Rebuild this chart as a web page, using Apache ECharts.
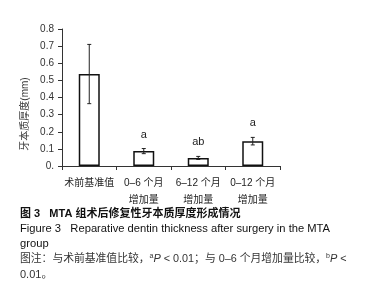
<!DOCTYPE html>
<html>
<head>
<meta charset="utf-8">
<script src="https://cdn.jsdelivr.net/npm/echarts@6/dist/echarts.min.js"></script>
<style>
  html, body { margin: 0; padding: 0; background: #fff; }
  #chart { width: 366px; height: 300px; }
</style>
</head>
<body>
<div id="chart"></div>
<script>
// 数据
var categories = ['术前基准值', '0–6 个月\n增加量', '6–12 个月\n增加量', '0–12 个月\n增加量'];
var meanValues = [0.537, 0.087, 0.047, 0.145];
var sdValues = [0.173, 0.015, 0.009, 0.022];
var sigLabels = ['', 'a', 'ab', 'a'];
var yTicks = [0, 0.1, 0.2, 0.3, 0.4, 0.5, 0.6, 0.7, 0.8];

var FONT = '"Liberation Sans", Arial, "Noto Sans CJK SC", sans-serif';
var CJK = '"Liberation Sans", "Noto Sans CJK SC", sans-serif';

var myChart = echarts.init(document.getElementById('chart'), null, {renderer: 'canvas'});

var errData = meanValues.map(function (v, i) {
    return [i, v - sdValues[i], v + sdValues[i]];
});

var option = {
    animation: false,
    backgroundColor: '#fff',
    grid: {left: 62, right: 86, top: 29, bottom: 134},
    xAxis: {
        type: 'category',
        data: categories,
        axisLine: {lineStyle: {color: '#333', width: 1}},
        axisTick: {show: true, length: 4, lineStyle: {color: '#333'}},
        axisLabel: {
            color: '#222',
            fontSize: 10,
            fontFamily: CJK,
            lineHeight: 17,
            margin: 9,
            interval: 0
        }
    },
    yAxis: {
        type: 'value',
        min: yTicks[0],
        max: yTicks[yTicks.length - 1],
        interval: 0.1,
        splitLine: {show: false},
        axisLine: {show: true, lineStyle: {color: '#333', width: 1}},
        axisTick: {show: true, length: 4, lineStyle: {color: '#333'}},
        axisLabel: {
            color: '#333',
            fontSize: 10,
            fontFamily: FONT,
            margin: 8,
            formatter: function (v) {
                return v === 0 ? '0.' : v.toFixed(1);
            }
        }
    },
    series: [
        {
            type: 'bar',
            data: meanValues,
            barWidth: 21,
            itemStyle: {color: '#fff', borderColor: '#111', borderWidth: 1.5}
        },
        {
            type: 'custom',
            data: errData,
            z: 10,
            renderItem: function (params, api) {
                var lo = api.coord([api.value(0), api.value(1)]);
                var hi = api.coord([api.value(0), api.value(2)]);
                var cap = 2;
                var style = {stroke: '#222', lineWidth: 1};
                var children = [
                    {type: 'line', shape: {x1: lo[0], y1: lo[1], x2: hi[0], y2: hi[1]}, style: style},
                    {type: 'line', shape: {x1: lo[0] - cap, y1: lo[1], x2: lo[0] + cap, y2: lo[1]}, style: style},
                    {type: 'line', shape: {x1: hi[0] - cap, y1: hi[1], x2: hi[0] + cap, y2: hi[1]}, style: style}
                ];
                var sig = sigLabels[params.dataIndex];
                if (sig) {
                    children.push({
                        type: 'text',
                        x: hi[0],
                        y: hi[1] - 14,
                        style: {
                            text: sig,
                            fill: '#222',
                            font: '11px ' + FONT,
                            align: 'center',
                            verticalAlign: 'middle'
                        }
                    });
                }
                return {type: 'group', children: children};
            }
        }
    ],
    graphic: [
        {
            type: 'text',
            x: 25, y: 114,
            rotation: Math.PI / 2,
            style: {
                text: '牙本质厚度(mm)',
                fill: '#333',
                font: '10px ' + CJK,
                align: 'center',
                verticalAlign: 'middle'
            }
        },
        {
            type: 'text', left: 20, top: 208,
            style: {text: '图 3   MTA 组术后修复性牙本质厚度形成情况', fill: '#111', font: 'bold 11px ' + CJK}
        },
        {
            type: 'text', left: 20, top: 223,
            style: {text: 'Figure 3   Reparative dentin thickness after surgery in the MTA', fill: '#111', font: '11.2px ' + FONT}
        },
        {
            type: 'text', left: 20, top: 238,
            style: {text: 'group', fill: '#111', font: '11.2px ' + FONT}
        },
        {
            type: 'text', left: 20, top: 253,
            style: {
                text: '图注：与术前基准值比较，{sup|a}{i|P} < 0.01；与 0–6 个月增加量比较，{sup|b}{i|P} <',
                fill: '#333',
                font: '10.8px ' + CJK,
                rich: {
                    sup: {fontSize: 7, verticalAlign: 'top', padding: [0, 0, 5, 0], fill: '#333', fontFamily: FONT},
                    i: {fontStyle: 'italic', fontSize: 11, fill: '#333', fontFamily: FONT}
                }
            }
        },
        {
            type: 'text', left: 20, top: 269,
            style: {text: '0.01。', fill: '#333', font: '11px ' + CJK}
        }
    ]
};

myChart.setOption(option);
</script>
</body>
</html>
